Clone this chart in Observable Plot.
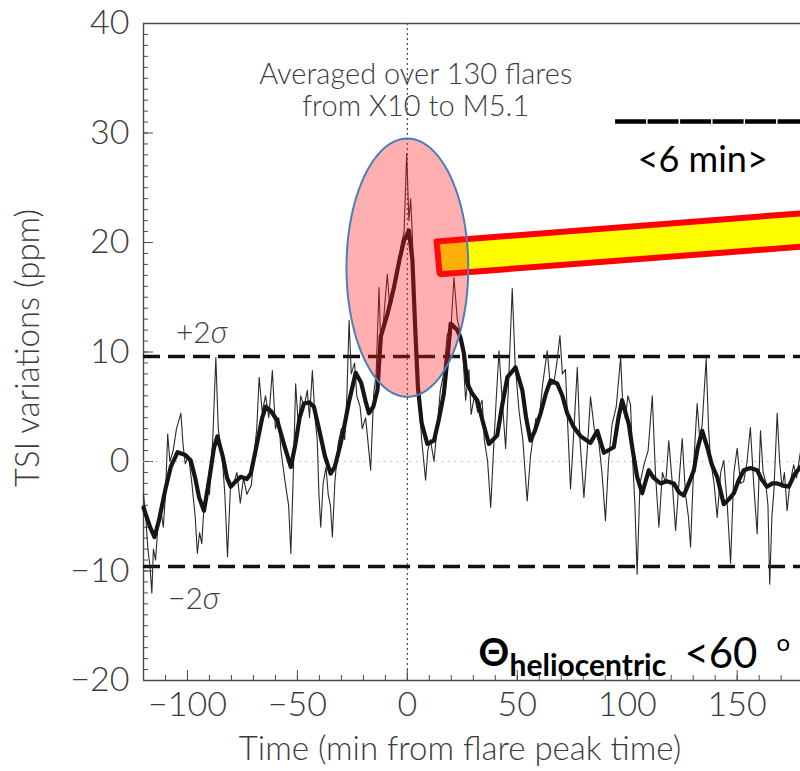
<!DOCTYPE html>
<html><head><meta charset="utf-8">
<script src="https://cdn.jsdelivr.net/npm/d3@7"></script>
<script src="https://cdn.jsdelivr.net/npm/@observablehq/plot@0.6"></script>
<style>body{margin:0;background:#fff} svg{display:block}</style>
</head><body><div id="chart"></div>
<script>
// ---- data ----
const thinTime = [-120,-119,-118,-117,-116.2,-115.5,-114.5,-113.5,-112,-111,-110,-109,-108,-106.5,-105,-103,-102,-101,-99.5,-98,-96.5,-95.5,-94.5,-93.5,-92.7,-91,-90,-88.5,-87.1,-86,-84.1,-83,-81.8,-80.5,-79,-77.5,-76,-74.5,-73,-71,-69.5,-68.5,-67.4,-66,-64.5,-63,-61.4,-60,-58.5,-57.5,-55.5,-54,-53,-52,-50.8,-49.5,-48.5,-47,-45.5,-44.5,-43.2,-42,-41,-40.2,-39.4,-38.3,-37,-36,-35,-34.1,-33,-31.5,-30,-28.5,-27.5,-26.5,-25.5,-24,-23,-21.5,-20.5,-19,-18,-16.7,-15.3,-14.2,-12.9,-12,-11.2,-10,-9.1,-8,-6.9,-5.8,-4.8,-3.7,-2.7,-1.5,-0.3,0.7,1.5,2.2,3.6,5.3,6.5,8.3,9.3,10.5,12.1,13.5,15,16.5,18.2,19.5,21.2,22.7,24.9,26.5,28,29,30.5,32,34,35,36.5,37.9,39.3,40.5,41.7,43,44.7,46,47.7,49,50.8,52.5,54.5,56,58.4,60,61.5,63.6,65,66.6,68,69.4,70.5,71.9,73,74.2,75.5,77.3,78.5,80.3,81.8,83.3,85,87.1,88.5,90.1,91.5,93.1,95,97,98,99.2,100.3,101.5,102.5,103.5,104.5,105.8,107.6,109.5,111.4,112.8,114.4,116,117.5,118.9,120.5,122,123.5,125,126.5,127.8,128.8,130.3,131.8,133,134.1,135.9,137,137.9,139.5,140.9,142.5,143.9,145.5,147,148.5,150,151.5,153,154.5,156,157.5,159.1,160.6,161.8,162.9,164,164.8,165.8,166.7,168.2,169.3,170.4,171.5,172.7,174,175.7,177,178.8];
const thinTSI = [-3,-5,-8,-9.7,-12,-8,-9,-6,-4.5,-6,-3,2.5,0,1,3,4.4,1.5,-0.2,0.5,-2,-5,-8.4,-6.5,-7.5,-4.8,-2,-3,2,9.5,3,0.1,-3,-8.7,-2.5,-2,-1,-3.8,-1.5,-3,-2.2,1,3,7.7,4.5,6,4,8.3,3,4,1,-2,-4,-8.4,-2,7.1,3,6,5,6.5,4,8.3,4,2,-3,-6,-2,-0.5,-3,-4,-6.9,-2,1.6,3,2,6,12.9,8,9,6,5,3,4,2,-0.8,6.2,8,15.9,10,11.9,15,17.1,14,14.6,16.5,17.7,18.5,19.9,21,28.1,22,24,21,12.9,5.9,2,-1.7,1,2,0,3,6.5,8,11.7,11,16.8,13,11,5.6,8.4,4.3,6,4.5,5.6,2,0,-4.2,1.5,6,10.1,6,1.2,7,15.8,9,4.6,2,-3.6,0.5,3.9,4,7,10.1,7,7.1,9,11.5,8,8.4,3,-2.5,2,8.6,2,-3.3,1,5.9,3,1.7,-1,-5.4,0,3.4,5,9.5,5,3.9,6,5.2,0,-4,-10.3,-2,-0.3,1,6,-1,-6,-1,-2,1.9,-2,-6.3,-2,2.1,-3,-5,-7.8,0,5.3,2,3.4,9.4,3,0.1,-2,-5.1,-1,0.1,-4,-9.3,-1,1.2,-2,-1.8,0,3.1,-2,-6.6,2.8,-1,-1.8,-4,-11.2,-5,-2.7,4.4,0,-2.4,-1,-4.5,-2,-0.3,-1.5,0.9];
const thickTime = [-120,-117,-115,-113,-110,-107.6,-104.5,-101,-98.5,-96.5,-94.7,-92.5,-90,-88,-86.4,-84,-82,-80.3,-78,-75.8,-73,-71.2,-68,-66,-64.4,-62,-59.1,-56,-53,-51,-49,-47,-44.5,-42.5,-40,-37.5,-34.9,-33,-30.5,-28.8,-26.5,-23.5,-21,-19,-17.5,-15.5,-13.6,-12.1,-9,-6.1,-3.5,-1.5,0.7,2.3,3.5,4.8,6.5,9.1,12.1,14.5,16.6,18.5,19.7,22.7,24.2,25.7,27.3,29.5,31.8,34.5,37.1,40.9,43,45.5,49.2,52.3,54,56,58,60.6,63,65.1,68.2,70.5,72.7,75.5,78.8,83.3,86.4,89.4,93.9,96,97.7,100.7,102.5,104.5,106.8,109.8,112,115.1,118,121.2,123.5,125.7,128,130.3,132,134.1,136.4,138.5,140.9,143.9,146,148.5,150.5,153,156,159.1,161,163.6,166,168.2,171,173.5,176,178.8];
const thickTSI = [-4.2,-6,-6.9,-5.4,-2.5,-0.5,0.85,0.6,0.1,-1.5,-3.3,-4.5,-1.5,1.2,2.3,0.5,-1.5,-2.3,-1.8,-1.4,-1.6,-1.1,2,4,5,4.6,3.7,1.5,-0.5,1.5,4,5.3,5.4,5,2.8,0.5,-1.1,-0.5,1.5,3.1,5.5,8.1,7.2,5.5,4.4,5,6.5,11.4,13.5,15.9,18.5,20.2,21.1,18.4,12.5,6.8,3.5,1.6,1.9,4,6.2,10,12.6,12,11.3,9.9,7.1,6.2,5.6,3.5,1.6,2.4,5,7.7,8.6,6.5,4,1.9,2.8,4.4,6.2,7.4,7.1,6,4.4,3.2,2.3,1.7,2.8,0.8,1.3,4,5.6,3.4,1,-1.4,-2.9,-0.8,-1.5,-2,-1.8,-2,-2.8,-3.1,-2,-0.8,1.2,2.8,1.3,-0.3,-1.4,-3.9,-3.5,-2.9,-1.8,-0.8,-0.6,-0.8,-1.6,-2.3,-2,-2,-2.2,-2.3,-1.2,-0.5];

const xDomain = [-120, 178.8];
const yDomain = [-20, 40];
const xMajorTicks = [-100, -50, 0, 50, 100, 150];
const xMinorTicks = d3.range(-110, 180, 10);
const yMajorTicks = [-20, -10, 0, 10, 20, 30, 40];
const yMinorTicks = d3.range(-19, 40, 1);
const sigmaLevels = [9.6, -9.6];
const sigmaLabels = ["+2", "\u22122"];
const sigmaLabelX = [-89.4, -93];
const sigmaLabelY = [11.7, -12.6];

// annotations (data units)
const noteLines = ["Averaged over 130 flares", "from X10 to M5.1"];
const noteX = [3.8, 3.8];
const noteY = [35.3, 32.4];
const ellipseCenter = [0, 17.7];
const ellipseRadii = [27.7, 11.8];
const barX = [13.3, 14.7, 188, 188, 13.3];
const barY = [20.1, 17.1, 19.75, 22.8, 20.1];
const scaleBarX = [94.7, 190];
const scaleBarY = 31.05;
const scaleBarLabel = "<6 min>";
const scaleLabelPos = [104.7, 27.5];
const angleParts = ["\u0398", "heliocentric", "<60", "o"];
const angleX = [32.4, 46.5, 126, 167.9];
const angleY = [-17.6, -18.7, -17.6, -16.6];
const angleSize = [38, 30, 42, 24];
const angleWeight = ["bold", "bold", "normal", "normal"];

const thin = thinTime.map((t, i) => ({t, v: thinTSI[i]}));
const thick = thickTime.map((t, i) => ({t, v: thickTSI[i]}));
const bar = barX.map((x, i) => ({x, y: barY[i]}));
const ellipse = d3.range(0, 97).map(i => {
  const a = i / 96 * 2 * Math.PI;
  return {x: ellipseCenter[0] + ellipseRadii[0] * Math.cos(a), y: ellipseCenter[1] + ellipseRadii[1] * Math.sin(a)};
});

const axisColor = "#4a4a4a";
const textColor = "#3c3c3c";
const F = "Lato, 'Open Sans', sans-serif";

const angleMarks = angleParts.map((s, i) => Plot.text([s], {
  x: angleX[i], y: angleY[i], textAnchor: "start", fontSize: angleSize[i],
  fontWeight: angleWeight[i], fill: "#000", fontFamily: "Lato, sans-serif"
}));

const chart = Plot.plot({
  width: 800, height: 771,
  marginLeft: 143, marginRight: 0, marginTop: 23, marginBottom: 91,
  x: {domain: xDomain},
  y: {domain: yDomain},
  style: {fontFamily: F, background: "#fff", color: textColor},
  marks: [
    // frame (left, top, bottom)
    Plot.ruleX([xDomain[0]], {stroke: axisColor, strokeWidth: 1.4}),
    Plot.ruleY([yDomain[1], yDomain[0]], {stroke: axisColor, strokeWidth: 1.4}),
    // inward ticks
    Plot.axisY(yMinorTicks, {tickSize: -5, fill: "none", stroke: axisColor, label: null}),
    Plot.axisY(yMajorTicks, {tickSize: -10, fill: "none", stroke: axisColor, label: null}),
    Plot.axisY(yMajorTicks, {tickSize: 0, tickPadding: 14, fontSize: 34, fontWeight: 300, fill: textColor, label: null}),
    Plot.axisX(xMinorTicks, {tickSize: -5, fill: "none", stroke: axisColor, label: null}),
    Plot.axisX(xMajorTicks, {tickSize: -10, fill: "none", stroke: axisColor, label: null}),
    Plot.axisX(xMajorTicks, {tickSize: 0, tickPadding: 11, fontSize: 34, fontWeight: 300, fill: textColor, label: null}),
    // axis titles
    Plot.text(["TSI variations (ppm)"], {frameAnchor: "left", textAnchor: "middle", lineAnchor: "middle", rotate: -90, dx: -115, dy: -4, fontSize: 33, fontWeight: 300, fill: textColor}),
    Plot.text(["Time (min from flare peak time)"], {frameAnchor: "bottom", textAnchor: "middle", lineAnchor: "middle", dy: 69, dx: -12, fontSize: 33, fontWeight: 300, fill: textColor}),
    // reference lines
    Plot.ruleY([0], {stroke: "#bbb", strokeWidth: 1, strokeDasharray: "1.5,5"}),
    Plot.ruleY(sigmaLevels, {stroke: "#111", strokeWidth: 3.5, strokeDasharray: "17,8"}),
    Plot.ruleX([0], {stroke: "#555", strokeWidth: 1.3, strokeDasharray: "2,3"}),
    // data
    Plot.line(thin, {x: "t", y: "v", stroke: "#2a2a2a", strokeWidth: 1.1}),
    Plot.line(thick, {x: "t", y: "v", stroke: "#161616", strokeWidth: 4.2, strokeLinejoin: "round"}),
    // sigma labels
    Plot.text(sigmaLabels, {x: (d, i) => sigmaLabelX[i], y: (d, i) => sigmaLabelY[i], text: d => d, textAnchor: "end", fontSize: 30, fontWeight: 300, fill: textColor}),
    Plot.text(sigmaLabels, {x: (d, i) => sigmaLabelX[i], y: (d, i) => sigmaLabelY[i], text: () => "\u03c3", textAnchor: "start", fontSize: 31, fontStyle: "italic", fontWeight: 300, fill: textColor}),
    // note
    Plot.text(noteLines, {x: (d, i) => noteX[i], y: (d, i) => noteY[i], text: d => d, fontSize: 29, fontWeight: 300, fill: textColor}),
    // scale bar
    Plot.ruleY([scaleBarY], {x1: scaleBarX[0], x2: scaleBarX[1], stroke: "#000", strokeWidth: 4.5, strokeDasharray: "31,1.5"}),
    Plot.text([scaleBarLabel], {x: scaleLabelPos[0], y: scaleLabelPos[1], textAnchor: "start", fontSize: 36, fill: "#000", fontFamily: "Lato, sans-serif"}),
    // callout bar and ellipse
    Plot.line(bar, {x: "x", y: "y", fill: "#ffff00", stroke: "#ff0000", strokeWidth: 6, strokeLinejoin: "miter"}),
    Plot.line(ellipse, {x: "x", y: "y", fill: "#ff1a1a", fillOpacity: 0.35, stroke: "#4a7ebb", strokeWidth: 2, curve: "linear"}),
    // heliocentric label
    ...angleMarks
  ]
});
document.getElementById("chart").appendChild(chart);
</script>
</body></html>
